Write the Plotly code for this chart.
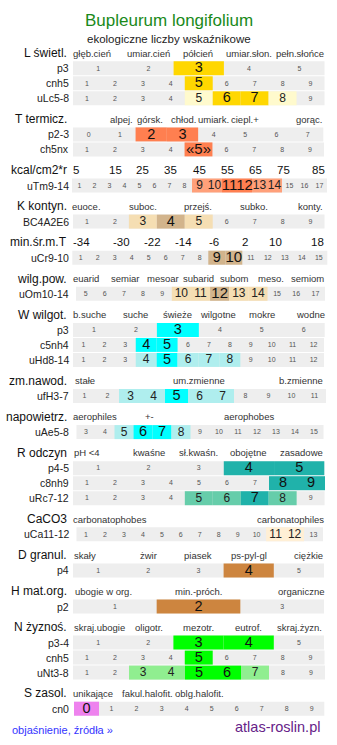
import plotly.graph_objects as go

# ---------------- data ----------------
title = "Bupleurum longifolium"
subtitle = "ekologiczne liczby wskaźnikowe"
footer_left = "objaśnienie, źródła »"
footer_right = "atlas-roslin.pl"

group_names = ["L świetl.", "T termicz.", "kcal/cm2*r", "K kontyn.", "min.śr.m.T",
               "wilg.pow.", "W wilgot.", "zm.nawod.", "napowietrz.", "R odczyn",
               "CaCO3", "D granul.", "H mat.org.", "N żyznoś.", "S zasol."]

group_header_labels = [
    ["głęb.cień", "umiar.cień", "półcień", "umiar.słon.", "pełn.słońce"],
    ["alpej.", "górsk.", "chłod.", "umiark.", "ciepl.+", "gorąc."],
    ["5", "15", "25", "35", "45", "55", "65", "75", "85"],
    ["euoce.", "suboc.", "przejś.", "subko.", "konty."],
    ["-34", "-30", "-22", "-14", "-6", "2", "10", "18"],
    ["euarid", "semiar", "mesoar", "subarid", "subom", "meso.", "semiom"],
    ["b.suche", "suche", "świeże", "wilgotne", "mokre", "wodne"],
    ["stałe", "um.zmienne", "b.zmienne"],
    ["aerophiles", "+-", "aerophobes"],
    ["pH <4", "kwaśne", "sł.kwaśn.", "obojętne", "zasadowe"],
    ["carbonatophobes", "carbonatophiles"],
    ["skały", "żwir", "piasek", "ps-pyl-gl", "ciężkie"],
    ["ubogie w org.", "min.-próch.", "organiczne"],
    ["skraj.ubogie", "oligotr.", "mezotr.", "eutrof.", "skraj.żyzn."],
    ["unikające", "fakul.halofit.", "oblg.halofit."],
]

row_group = [0, 0, 0, 1, 1, 2, 3, 4, 5, 6, 6, 6, 7, 8, 9, 9, 9, 10, 11, 12, 13, 13, 13, 14]
row_labels = ["p3", "cnh5", "uLc5-8", "p2-3", "ch5nx", "uTm9-14", "BC4A2E6", "uCr9-10",
              "uOm10-14", "p3", "c5nh4", "uHd8-14", "ufH3-7", "uAe5-8", "p4-5", "c8nh9",
              "uRc7-12", "uCa11-12", "p4", "p2", "p3-4", "cnh5", "uNt3-8", "cn0"]
row_first = [1, 1, 1, 0, 1, 1, 1, 1, 5, 1, 1, 1, 1, 3, 1, 1, 1, 1, 1, 1, 1, 1, 1, 0]
row_last = [5, 9, 9, 7, 9, 17, 9, 15, 17, 6, 12, 12, 11, 15, 5, 9, 9, 13, 5, 3, 5, 9, 9, 9]
row_strong = [[3], [5], [6, 7], [2, 3], [5], [11, 12], [4], [9, 10], [12], [3], [4, 5], [5],
              [5], [6, 7], [4, 5], [8, 9], [7], [], [4], [2], [3, 4], [5], [5, 6], [0]]
row_weak = [[], [], [5, 8], [], [], [9, 10, 13, 14], [3, 5], [], [10, 11, 13, 14], [], [],
            [4, 6, 7, 8], [3, 4, 6, 7], [5, 8], [], [], [5, 6, 8], [11, 12], [], [], [], [],
            [3, 4, 7], []]
row_uncertain = [[], [], [], [], [5], [], [], [], [], [], [], [], [], [], [], [], [], [], [],
                 [], [], [], [], []]

# ---------------- styles / layout ----------------
group_strong_color = ["#ffd700", "#ff7f50", "#ff7f50", "#d2b48c", "#d2b48c", "#d2b48c",
                      "#00ffff", "#00ffff", "#00ffff", "#20b2aa", "#ffefd5", "#cd853f",
                      "#cd853f", "#00ff00", "#ee82ee"]
group_weak_color = ["#fffacd", "#ffa07a", "#ffa07a", "#f5deb3", "#f5deb3", "#f5deb3",
                    "#afeeee", "#afeeee", "#afeeee", "#66cdaa", "#ffefd5", "#f5deb3",
                    "#f5deb3", "#90ee90", "#ee82ee"]
header_x = [
    [92, 148.5, 198, 249, 299.5],
    [121, 150, 183, 213, 245, 309],
    [76, 115, 142.7, 170.7, 199, 227.3, 255, 283.3, 318.3],
    [86.5, 142.7, 198.3, 253.7, 310.5],
    [81, 121, 152, 183.3, 213.8, 245, 275.8, 317.5],
    [85.8, 125.8, 162.5, 198.7, 234.5, 270.5, 307.2],
    [89.3, 135.5, 177.2, 217.8, 261.7, 310],
    [85, 199.2, 301.3],
    [94.8, 149.5, 248.8],
    [86.5, 149.2, 198.3, 248.2, 301.8],
    [110, 290],
    [85, 148, 198.3, 248.8, 308.5],
    [103, 199.2, 300.8],
    [99, 148.7, 198.8, 248.3, 299.5],
    [93.3, 147.8, 199],
]
numeric_header_groups = {2, 4}
row_x0 = [73, 73, 73, 73, 73, 72, 73, 72.3, 76, 73, 73, 73, 73, 76.5, 73, 73, 73, 76.5,
          73, 73, 73, 73, 73, 74]
row_x1 = [324.5, 324.5, 324.5, 323.3, 324, 327, 324.5, 327.3, 325, 324.7, 324, 324, 326,
          323.5, 324.3, 325, 324.6, 323, 324, 324, 324, 324.5, 325, 324.3]

W, H = 337, 745
GRAY = "#eeeeee"
FONT = "Liberation Sans, Arial, sans-serif"
BAR_H = 14
HEAD0, A_OFF, B_OFF, PITCH = 53, 15.3, 20.8, 15

# y layout
header_y = []
row_y = []
y = HEAD0
for g in range(len(group_names)):
    header_y.append(y)
    rows = [i for i, rg in enumerate(row_group) if rg == g]
    yy = y + A_OFF
    for k, i in enumerate(rows):
        row_y.append(yy + PITCH * k)
    y = row_y[-1] + B_OFF

fig = go.Figure()

# background bars
fig.add_trace(go.Bar(
    orientation="h", y=row_y, base=row_x0,
    x=[row_x1[i] - row_x0[i] for i in range(len(row_labels))],
    width=[BAR_H] * len(row_labels), marker=dict(color=GRAY, line=dict(width=0)),
    hoverinfo="skip", showlegend=False))

# highlighted cells + cell numbers
hy, hb, hx, hc = [], [], [], []
tx, ty, tt, ts, tcol = [], [], [], [], []
for i in range(len(row_labels)):
    g = row_group[i]
    vals = list(range(row_first[i], row_last[i] + 1))
    n = len(vals)
    cw = (row_x1[i] - row_x0[i]) / n
    for k, v in enumerate(vals):
        left = row_x0[i] + k * cw
        label = str(v)
        if v in row_uncertain[i]:
            label = "«" + label + "»"
        if v in row_strong[i]:
            hy.append(row_y[i]); hb.append(left); hx.append(cw); hc.append(group_strong_color[g])
            ts.append(14.5 if len(label) == 1 else 15); tcol.append("#111111")
        elif v in row_weak[i]:
            hy.append(row_y[i]); hb.append(left); hx.append(cw); hc.append(group_weak_color[g])
            ts.append(12); tcol.append("#222222")
        else:
            ts.append(7); tcol.append("#555555")
        tx.append(left + cw / 2); ty.append(row_y[i] + 0.5); tt.append(label)

fig.add_trace(go.Bar(
    orientation="h", y=hy, base=hb, x=hx, width=[BAR_H] * len(hy),
    marker=dict(color=hc, line=dict(width=0)), hoverinfo="skip", showlegend=False))

fig.add_trace(go.Scatter(
    x=tx, y=ty, text=tt, mode="text", textposition="middle center",
    textfont=dict(size=ts, color=tcol, family=FONT), hoverinfo="skip", showlegend=False))

ann = []
# title
ann.append(dict(x=W / 2, y=20, text=title, showarrow=False, xanchor="center", yanchor="middle",
                font=dict(size=17, color="#1a8a1a", family=FONT)))
ann.append(dict(x=W / 2, y=38.5, text=subtitle, showarrow=False, xanchor="center",
                yanchor="middle", font=dict(size=11.5, color="#222222", family=FONT)))
# group headers
for g, name in enumerate(group_names):
    ann.append(dict(x=69, y=header_y[g], text=name, showarrow=False, xanchor="right",
                    yanchor="middle", font=dict(size=12, color="#111111", family=FONT)))
    for lab, xx in zip(group_header_labels[g], header_x[g]):
        if g in numeric_header_groups:
            f = dict(size=11.5, color="#111111", family=FONT)
        else:
            f = dict(size=9.5, color="#333333", family=FONT)
        ann.append(dict(x=xx, y=header_y[g], text=lab, showarrow=False, xanchor="center",
                        yanchor="middle", font=f))
# row labels
for i, lab in enumerate(row_labels):
    ann.append(dict(x=70.5, y=row_y[i], text=lab, showarrow=False, xanchor="right",
                    yanchor="middle", font=dict(size=10.5, color="#222222", family=FONT)))
# footer
ann.append(dict(x=10, y=730, text=footer_left, showarrow=False, xanchor="left",
                yanchor="middle", font=dict(size=11, color="#3333ff", family=FONT)))
ann.append(dict(x=322, y=727, text=footer_right, showarrow=False, xanchor="right",
                yanchor="middle", font=dict(size=14.5, color="#662288", family=FONT)))

fig.update_layout(
    width=W, height=H, margin=dict(l=0, r=0, t=0, b=0),
    paper_bgcolor="white", plot_bgcolor="white", barmode="overlay",
    xaxis=dict(range=[0, W], visible=False, fixedrange=True),
    yaxis=dict(range=[H, 0], visible=False, fixedrange=True),
    annotations=ann, showlegend=False,
)
for a in fig.layout.annotations:
    a.update(xref="x", yref="y")

fig.write_html("out.html", config={"displayModeBar": False})
